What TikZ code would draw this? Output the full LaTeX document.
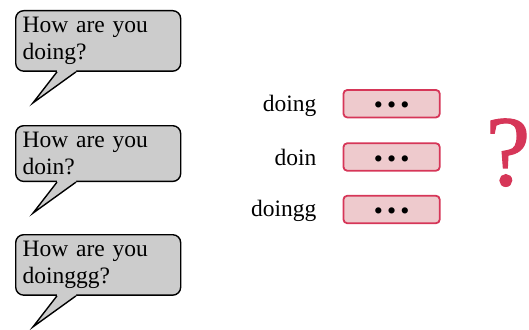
\documentclass[tikz,border=0pt]{standalone}
\usepackage{fontspec}
\setmainfont{Liberation Serif}
\newfontfamily\qfont{Liberation Serif}[FakeBold=1.2]
\definecolor{bubblegray}{RGB}{204,204,204}
\definecolor{accent}{RGB}{214,54,88}
\definecolor{pinkfill}{RGB}{238,202,205}
\tikzset{
  bubble/.style={draw=black, line width=1.4pt, fill=bubblegray, rounded corners=8pt,
    text width=151pt, inner xsep=7pt, inner ysep=6.5pt, anchor=north west,
    font=\fontsize{23.5}{27}\selectfont},
  pointer/.style={draw=black, line width=1.4pt, line join=miter},
  wordbox/.style={draw=accent, fill=pinkfill, line width=1.8pt, rounded corners=4pt,
    minimum width=96.4pt, minimum height=27.6pt, inner sep=0pt, font=\fontsize{26}{26}\selectfont},
  lbl/.style={anchor=base east, inner sep=0pt, font=\fontsize{23.5}{23.5}\selectfont},
  qmark/.style={anchor=base, inner sep=0pt, text=accent, font=\qfont\fontsize{100}{100}\selectfont}
}
\newcommand{\bubbletext}[1]{\parbox[t]{126pt}{\sloppy #1}}
\newcommand{\threedots}{\raisebox{-10pt}[0pt][0pt]{\textbullet\hspace{4.2pt}\textbullet\hspace{4.2pt}\textbullet}}
\begin{document}
\begin{tikzpicture}[x=1pt,y=-1pt]
\useasboundingbox (0,0) rectangle (529,329);
% speech bubbles
\node[bubble] (b1) at (15,10) {\bubbletext{How are you doing?}};
\node[bubble] (b2) at (15,125) {\bubbletext{How are you doin?}};
\node[bubble] (b3) at (15,234) {\bubbletext{How are you doinggg?}};
\foreach \b in {b1,b2,b3}{
  \coordinate (\b-l) at ([xshift=42pt]\b.south west);
  \coordinate (\b-r) at ([xshift=61pt]\b.south west);
  \coordinate (\b-tip) at ([xshift=18pt,yshift=-31pt]\b.south west);
  \fill[bubblegray] ([yshift=2.5pt]\b-l) -- (\b-l) -- (\b-tip) -- (\b-r) -- ([yshift=2.5pt]\b-r) -- cycle;
  \draw[pointer] (\b-l) -- (\b-tip) -- (\b-r);
}
% word boxes
\node[wordbox] (w1) at (391.6,103.7) {\threedots};
\node[wordbox] (w2) at (391.6,157) {\threedots};
\node[wordbox] (w3) at (391.6,209.5) {\threedots};
\node[lbl] (l1) at ([xshift=-26pt,yshift=-8pt]w1.west) {doing};
\node[lbl] (l2) at ([xshift=-26pt,yshift=-8pt]w2.west) {doin};
\node[lbl] (l3) at ([xshift=-26pt,yshift=-7pt]w3.west) {doingg};
\node[qmark] (q) at (508,185) {\makebox[36pt][c]{?}};
\end{tikzpicture}
\end{document}
